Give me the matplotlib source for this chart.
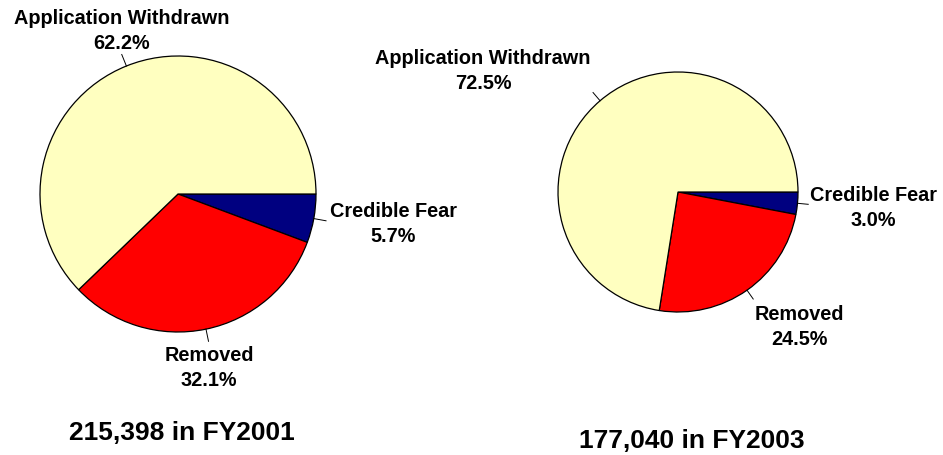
import matplotlib.pyplot as plt
import numpy as np

# donnees
categories = ['Credible Fear', 'Removed', 'Application Withdrawn']
pct_2001 = [5.7, 32.1, 62.2]
pct_2003 = [3.0, 24.5, 72.5]
totaux = ['215,398 in FY2001', '177,040 in FY2003']
couleurs = ['#000080', '#FF0000', '#FFFFC0']

W, H = 943, 456
plt.rcParams['font.family'] = ['Liberation Sans', 'DejaVu Sans']

fig = plt.figure(figsize=(W / 100, H / 100), dpi=100)
ax = fig.add_axes([0, 0, 1, 1])

# centre, rayon, positions des etiquettes (pixels image, y vers le bas)
pies = [
    dict(vals=pct_2001, cx=178, cy=195, r=138,
         lab=[(393, 224), (209, 368), (122, 31)], tot=(182, 433)),
    dict(vals=pct_2003, cx=678, cy=193, r=120,
         lab=[(873, 208), (799, 327), (483, 71)], tot=(692, 441)),
]

for p, tot in zip(pies, totaux):
    wedges, _ = ax.pie(p['vals'], colors=couleurs, startangle=0, counterclock=False,
                       center=(p['cx'], H - p['cy']), radius=p['r'],
                       wedgeprops=dict(edgecolor='black', linewidth=0.9))
    for w, nom, v, (tx, ty) in zip(wedges, categories, p['vals'], p['lab']):
        a = np.deg2rad((w.theta1 + w.theta2) / 2)
        x0 = p['cx'] + p['r'] * np.cos(a)
        y0 = H - p['cy'] + p['r'] * np.sin(a)
        x1 = p['cx'] + 1.09 * p['r'] * np.cos(a)
        y1 = H - p['cy'] + 1.09 * p['r'] * np.sin(a)
        ax.plot([x0, x1], [y0, y1], color='black', lw=0.7)
        ax.text(tx, H - ty, f'{nom}\n{v:.1f}%', ha='center', va='center',
                fontsize=14.3, fontweight='bold', linespacing=1.4)
    ax.text(p['tot'][0], H - p['tot'][1], tot, ha='center', va='center',
            fontsize=19, fontweight='bold')

ax.set_xlim(0, W)
ax.set_ylim(0, H)
ax.set_aspect('equal')
ax.axis('off')
fig.savefig('out.png', dpi=100)
